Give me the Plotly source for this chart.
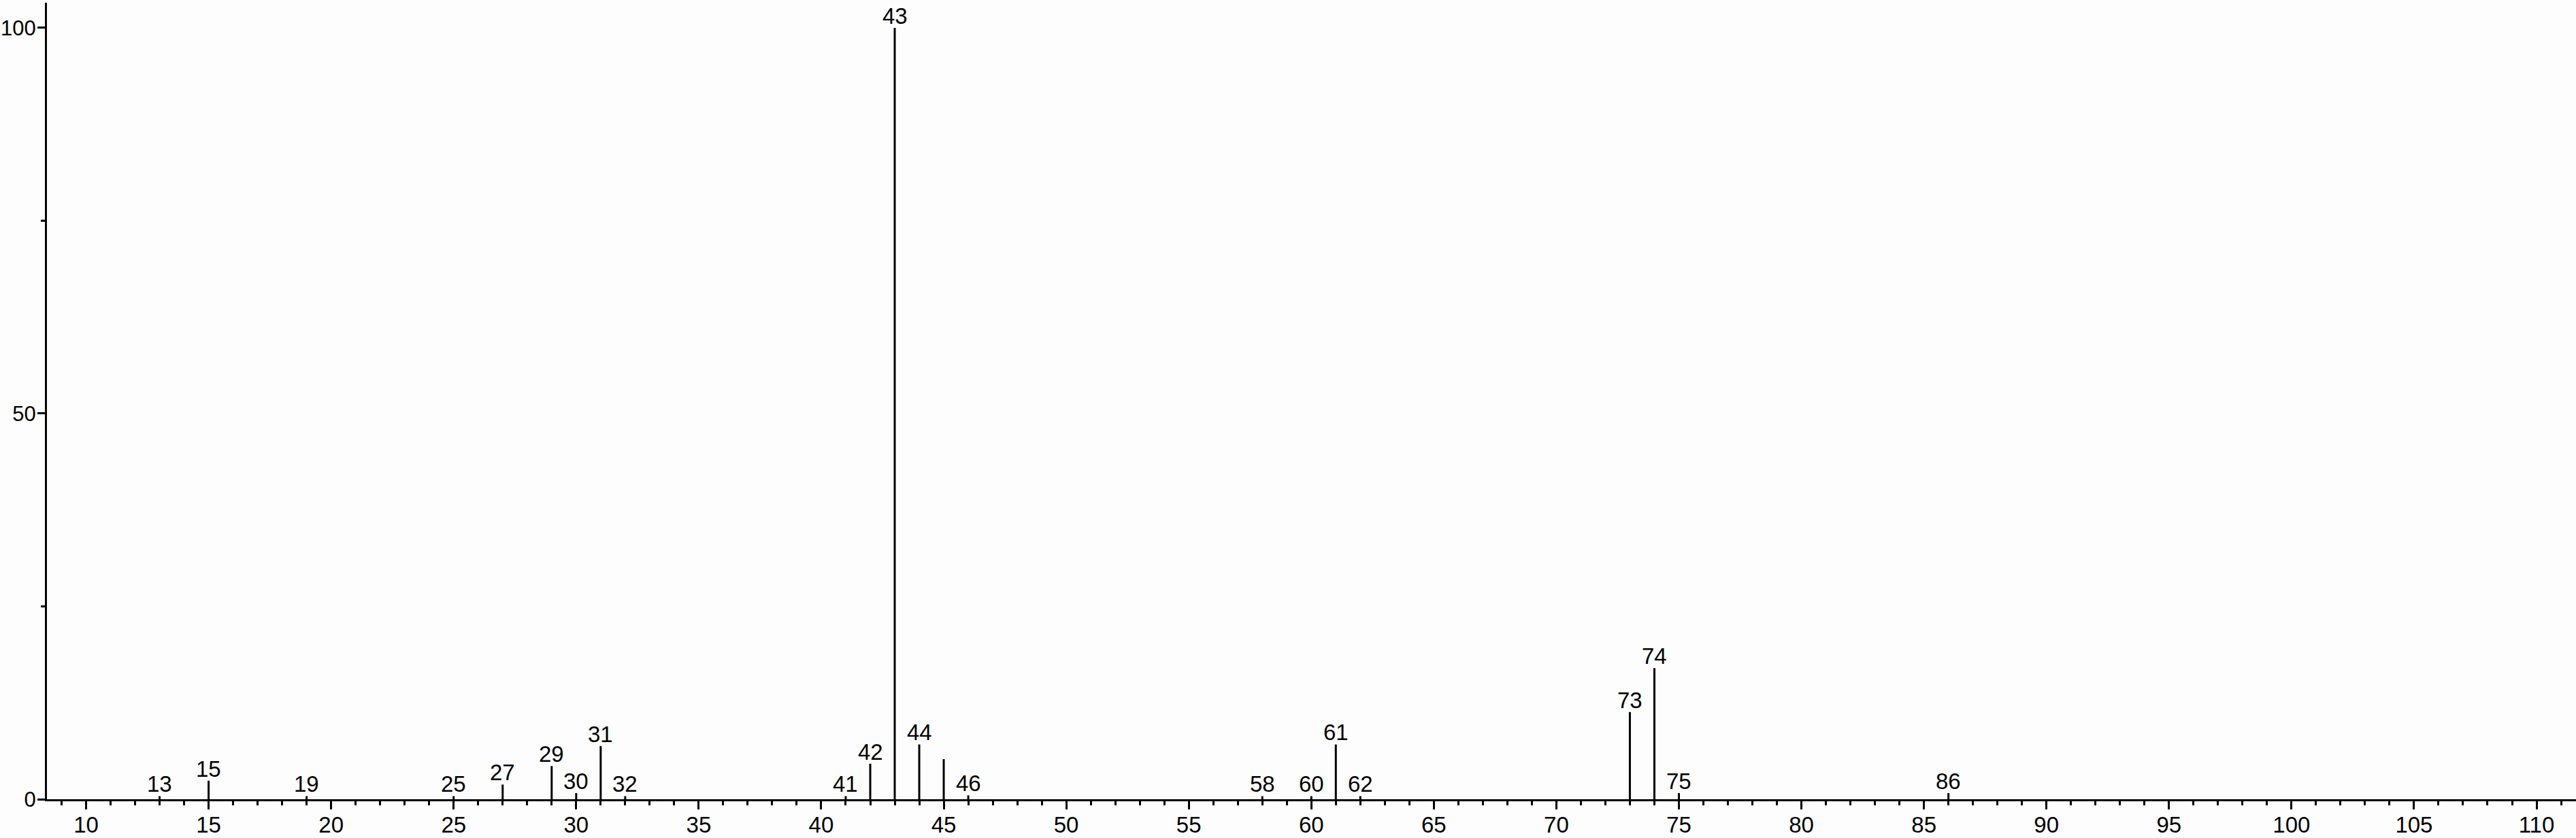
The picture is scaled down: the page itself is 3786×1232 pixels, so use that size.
import plotly.graph_objects as go

# m/z values and relative intensities (%)
mz = [13, 15, 19, 25, 27, 29, 30, 31, 32, 41, 42, 43, 44, 45, 46,
      58, 60, 61, 62, 73, 74, 75, 86]
intensity = [0.4, 2.4, 0.4, 0.4, 1.9, 4.3, 0.8, 6.9, 0.4, 0.4, 4.6, 100.0, 7.1, 5.2, 0.5,
             0.4, 0.4, 7.1, 0.4, 11.3, 17.0, 0.8, 0.8]
# peaks that carry a text label
labeled_mz = [13, 15, 19, 25, 27, 29, 30, 31, 32, 41, 42, 43, 44, 46,
              58, 60, 61, 62, 73, 74, 75, 86]

x_tickvals = list(range(10, 111, 5))
y_tickvals = [0, 50, 100]

FONT = "Liberation Sans, Arial, sans-serif"
FS = 32

xs, ys = [], []
for m, v in zip(mz, intensity):
    xs += [m, m, None]
    ys += [0, v, None]

fig = go.Figure()
fig.add_trace(go.Scatter(x=xs, y=ys, mode="lines",
                         line=dict(color="black", width=3),
                         hoverinfo="skip", showlegend=False))

annotations = []
for m, v in zip(mz, intensity):
    if m in labeled_mz:
        annotations.append(dict(x=m, y=v, xref="x", yref="y", text=str(m),
                                showarrow=False, xanchor="center", yanchor="bottom",
                                yshift=-3, font=dict(family=FONT, size=FS + 1, color="black")))

fig.update_layout(
    template="none",
    width=3786, height=1232,
    margin=dict(l=69, r=0, t=4, b=57, pad=0),
    paper_bgcolor="#fdfdfd", plot_bgcolor="#fdfdfd",
    font=dict(family=FONT, size=FS, color="black"),
    annotations=annotations,
    showlegend=False,
)
fig.update_xaxes(
    automargin=False,
    range=[8.403, 111.61], showgrid=False, zeroline=False,
    showline=True, linecolor="black", linewidth=3,
    tickmode="array", tickvals=x_tickvals, ticktext=[str(v) for v in x_tickvals],
    ticks="outside", ticklen=12, tickwidth=3, tickcolor="black",
    ticklabelstandoff=-6,
    tickfont=dict(family=FONT, size=FS + 1, color="black"),
    minor=dict(dtick=1, tick0=0, ticks="outside", ticklen=6, tickwidth=3, tickcolor="black", showgrid=False),
)
fig.update_yaxes(
    automargin=False,
    range=[0, 103.26], showgrid=False, zeroline=False,
    showline=True, linecolor="black", linewidth=3,
    tickmode="array", tickvals=y_tickvals, ticktext=[str(v) for v in y_tickvals],
    ticks="outside", ticklen=11, tickwidth=3, tickcolor="black",
    ticklabelstandoff=-4,
    tickfont=dict(family=FONT, size=FS - 1, color="black"),
    minor=dict(tickvals=[25, 75], ticks="outside", ticklen=6, tickwidth=3, tickcolor="black", showgrid=False),
)

fig.write_html(
    "out.html",
    config={"displayModeBar": False},
    post_script="document.body.style.margin='0';document.body.style.background='#fdfdfd';",
)
